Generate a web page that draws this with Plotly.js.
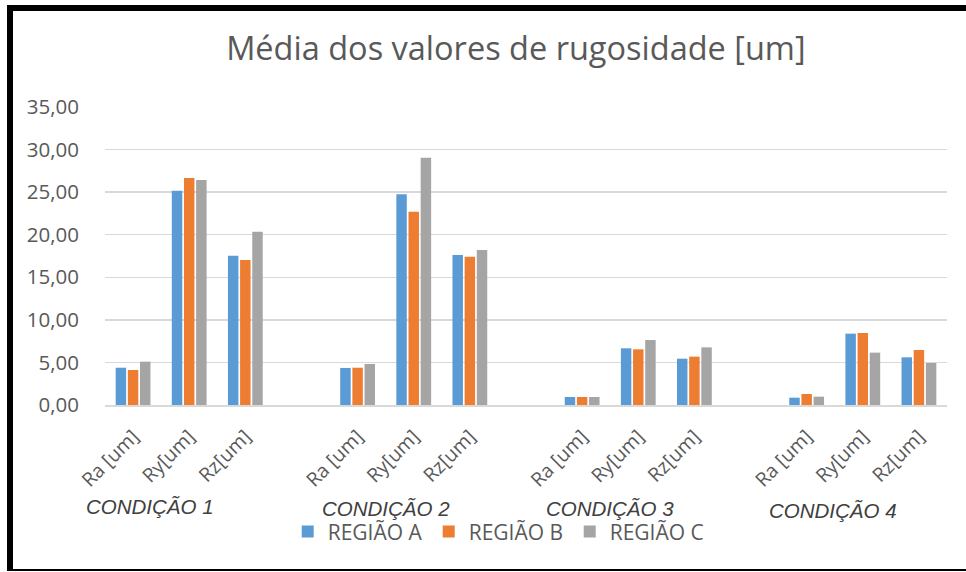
<!DOCTYPE html>
<html>
<head>
<meta charset="utf-8">
<script src="https://cdn.plot.ly/plotly-3.0.1.min.js"></script>
<style>
  html, body { margin: 0; padding: 0; background: #ffffff; overflow: hidden; }
  #chart { width: 966px; height: 572px; }
  #frame { position: absolute; left: 7px; top: 5px; width: 1000px; height: 566px; box-sizing: border-box;
           border-left: 6px solid #000; border-top: 6px solid #000; border-bottom: 2px solid #000; pointer-events: none; }
</style>
</head>
<body>
<div id="chart"></div>
<div id="frame"></div>
<script>
// ---- data ----
const conditions = ['CONDIÇÃO 1', 'CONDIÇÃO 2', 'CONDIÇÃO 3', 'CONDIÇÃO 4'];
const params = ['Ra [um]', 'Ry[um]', 'Rz[um]'];
const seriesNames = ['REGIÃO A', 'REGIÃO B', 'REGIÃO C'];
// values ordered: cond1 Ra,Ry,Rz, cond2 Ra,Ry,Rz, ...
const regiaoA = [4.38, 25.17, 17.54, 4.35, 24.74, 17.62, 0.94, 6.66, 5.44, 0.86, 8.38, 5.60];
const regiaoB = [4.11, 26.66, 17.03, 4.38, 22.71, 17.42, 0.94, 6.54, 5.68, 1.29, 8.46, 6.46];
const regiaoC = [5.09, 26.43, 20.36, 4.82, 29.05, 18.20, 0.94, 7.63, 6.77, 0.98, 6.15, 4.93];
const yTicks = [0, 5, 10, 15, 20, 25, 30, 35];

// ---- build ----
const colors = ['#5B9BD5', '#ED7D31', '#A5A5A5'];
const xs = [], tickText = [];
conditions.forEach((c, ci) => params.forEach((p, pi) => { xs.push(ci * 4 + pi); tickText.push(p); }));

const traces = [regiaoA, regiaoB, regiaoC].map((vals, i) => ({
  type: 'bar', x: xs, y: vals, name: seriesNames[i],
  marker: { color: colors[i], line: { width: 0 } },
  hoverinfo: 'skip'
}));

const fmt = v => v.toFixed(2).replace('.', ',');
const condShift = [-11, 0, 0, -2];
const condY = [-0.339, -0.346, -0.346, -0.353];
const annotations = conditions.map((c, ci) => ({
  text: c, xref: 'x', yref: 'paper', x: ci * 4 + 0.5, y: condY[ci], xshift: condShift[ci],
  xanchor: 'center', yanchor: 'middle', showarrow: false,
  font: { family: 'Liberation Sans, Arial, sans-serif', size: 20.5, color: '#404040', style: 'italic' }
}));

const layout = {
  width: 966, height: 572,
  margin: { l: 105, r: 19, t: 107, b: 167 },
  paper_bgcolor: '#ffffff', plot_bgcolor: '#ffffff',
  font: { family: 'Open Sans, sans-serif', color: '#595959' },
  title: { text: 'Média dos valores de rugosidade [um]', xref: 'container', yref: 'container',
           x: 0.534, xanchor: 'center', y: 0.915, yanchor: 'middle',
           font: { family: 'Open Sans, sans-serif', size: 32.5, color: '#595959' } },
  barmode: 'group', bargap: 0.35, bargroupgap: 0.14,
  xaxis: { range: [-0.5, 14.5], tickmode: 'array', tickvals: xs, ticktext: tickText, tickangle: -45,
           ticks: 'outside', ticklen: 11, tickcolor: 'rgba(0,0,0,0)',
           showgrid: false, zeroline: false, showline: true, linecolor: '#D9D9D9', linewidth: 1.5,
           tickfont: { family: 'Open Sans, sans-serif', size: 19.5, color: '#595959' } },
  yaxis: { range: [0, 35], tickmode: 'array', tickvals: yTicks, ticktext: yTicks.map(fmt),
           showgrid: true, gridcolor: '#D9D9D9', gridwidth: 1.5, zeroline: false, showline: false,
           ticks: 'outside', ticklen: 21, tickcolor: 'rgba(0,0,0,0)',
           tickfont: { family: 'Open Sans, sans-serif', size: 20.5, color: '#595959' } },
  showlegend: true,
  legend: { orientation: 'h', x: 0.217, xanchor: 'left', y: -0.426, yanchor: 'middle',
            entrywidth: 96, entrywidthmode: 'pixels', traceorder: 'normal',
            font: { family: 'Open Sans, sans-serif', size: 21, color: '#595959' }, bgcolor: 'rgba(0,0,0,0)' },
  annotations: annotations
};

Plotly.newPlot('chart', traces, layout, { displayModeBar: false, staticPlot: true });
</script>
</body>
</html>
